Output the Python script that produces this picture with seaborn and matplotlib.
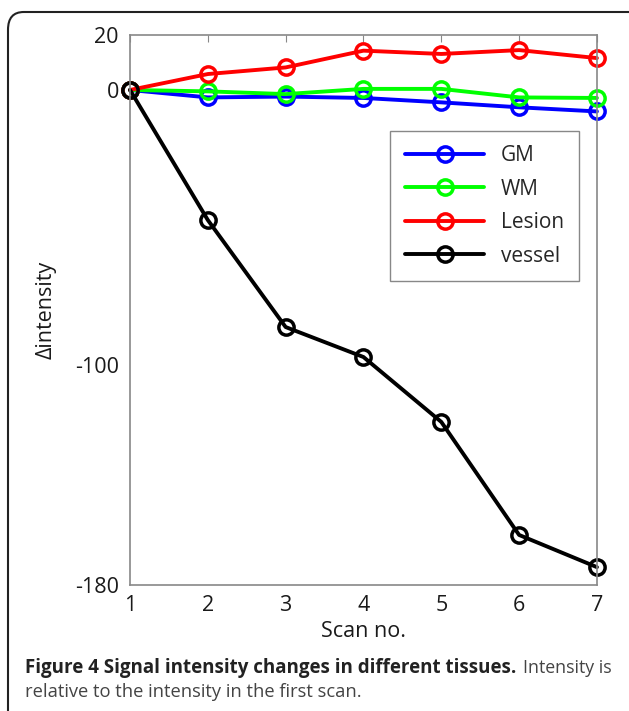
import numpy as np
import pandas as pd
import matplotlib.pyplot as plt
import seaborn as sns
from matplotlib.patches import FancyBboxPatch

scans = [1, 2, 3, 4, 5, 6, 7]
gm = [0, -2.7, -2.4, -2.9, -4.5, -6.3, -7.8]
wm = [0, -0.5, -1.5, 0.4, 0.4, -2.7, -2.9]
lesion = [0, 5.8, 8.2, 14.3, 13.1, 14.5, 11.6]
vessel = [0, -47.3, -86.2, -97.1, -120.7, -161.8, -173.5]

tissues = ['GM', 'WM', 'Lesion', 'vessel']
colors = ['#0000ff', '#00ff00', '#ff0000', '#000000']

df = pd.DataFrame({
    'Scan': scans * 4,
    'Delta': gm + wm + lesion + vessel,
    'Tissue': np.repeat(tissues, len(scans)),
})

sns.set_style('white')
plt.rcParams['font.family'] = ['Open Sans', 'DejaVu Sans']
plt.rcParams['axes.unicode_minus'] = False

fig = plt.figure(figsize=(6.29, 7.11), dpi=100)
ax = fig.add_axes([0.2067, 0.1772, 0.7423, 0.7736])

sns.lineplot(
    data=df, x='Scan', y='Delta', hue='Tissue', hue_order=tissues,
    palette=colors, marker='o', linewidth=2.8, ax=ax, legend=True,
)

# hollow circle markers in the line colour
for line in ax.lines:
    line.set_markerfacecolor('none')
    line.set_markeredgecolor(line.get_color())
    line.set_markersize(11)
    line.set_markeredgewidth(2.5)
    line.set_clip_on(False)

ax.set_xlim(1, 7)
ax.set_ylim(-180, 20)
ax.set_xticks(scans)
ax.set_yticks([-180, -100, 0, 20])
ax.tick_params(direction='in', length=5, color='#888888', labelsize=15.5,
               top=True, labelcolor='#1a1a1a')
ax.tick_params(axis='x', pad=7)
ax.tick_params(axis='y', pad=8)
for sp in ax.spines.values():
    sp.set_color('#888888')
    sp.set_linewidth(1.2)

ax.set_xlabel('Scan no.', fontsize=15.5, color='#1a1a1a', labelpad=4)
ax.set_ylabel('Δintensity', fontsize=15.5, color='#1a1a1a', labelpad=13)

leg = ax.legend(loc='upper right', bbox_to_anchor=(0.983, 0.845), fontsize=15,
                handlelength=3.8, labelspacing=0.6, borderpad=0.7,
                fancybox=False, edgecolor='#888888', framealpha=1)
for h in leg.legend_handles:
    h.set_markerfacecolor('none')
    h.set_markeredgecolor(h.get_color())
    h.set_markersize(11)
    h.set_markeredgewidth(2.5)
    h.set_linewidth(2.8)

# rounded figure border
fig.patches.append(FancyBboxPatch(
    (8 / 629, -0.05), 1.2, 1.05 - 12 / 711,
    boxstyle='round,pad=0,rounding_size=0.025', transform=fig.transFigure,
    fill=False, edgecolor='#222222', linewidth=1.5))

# caption
t1 = fig.text(25 / 629, 1 - 668 / 711, 'Figure 4 Signal intensity changes in different tissues.',
              fontsize=13.5, fontweight='bold', color='#222222', va='center')
fig.canvas.draw()
bb = t1.get_window_extent()
fig.text(bb.x1 / 629 + 0.010, 1 - 668 / 711, 'Intensity is', fontsize=12.8,
         color='#444444', va='center')
fig.text(25 / 629, 1 - 692 / 711, 'relative to the intensity in the first scan.',
         fontsize=13.2, color='#444444', va='center')

fig.savefig('out.png', dpi=100)
